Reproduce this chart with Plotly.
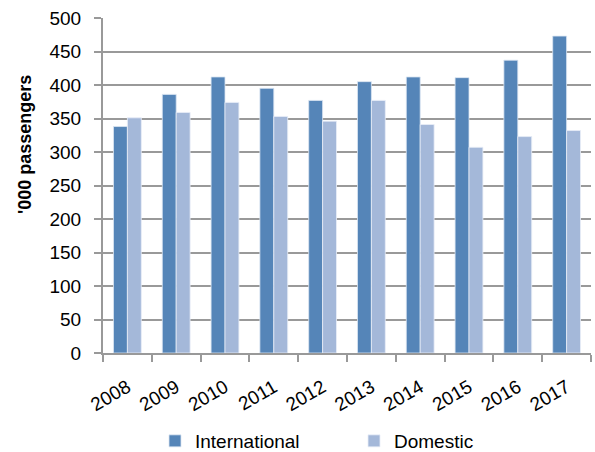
import plotly.graph_objects as go

years = ["2008", "2009", "2010", "2011", "2012", "2013", "2014", "2015", "2016", "2017"]
international = [338, 386, 412, 395, 377, 405, 412, 411, 437, 473]
domestic = [351, 359, 374, 353, 346, 377, 341, 307, 323, 332]

FONT = "Liberation Sans, Arial, sans-serif"

fig = go.Figure()
fig.add_trace(go.Bar(x=years, y=international, name="International",
                     marker=dict(color="#5585B8", line=dict(color="#DCE6F2", width=0.8))))
fig.add_trace(go.Bar(x=years, y=domestic, name="Domestic",
                     marker=dict(color="#A4B8D9", line=dict(color="#E8EEF7", width=0.8))))

fig.update_layout(
    width=595, height=452,
    margin=dict(l=103, r=4, t=18, b=99),
    paper_bgcolor="white", plot_bgcolor="white",
    font=dict(family=FONT, size=19, color="black"),
    barmode="group", bargap=0.43, bargroupgap=0,
    showlegend=True,
    legend=dict(orientation="h", xref="container", yref="container",
                x=155 / 595, xanchor="left", y=1 - 441 / 452, yanchor="middle",
                font=dict(size=19), entrywidth=154, traceorder="normal",
                itemwidth=30),
    annotations=[dict(text="<b>'000 passengers</b>", textangle=-90,
                      xref="paper", yref="paper",
                      x=(25 - 103) / 488, y=(353 - 145) / 335,
                      xanchor="center", yanchor="middle", showarrow=False,
                      font=dict(size=18))],
)
fig.update_xaxes(
    type="category", showline=True, linecolor="#999999", linewidth=2,
    ticks="outside", tickson="boundaries", ticklen=7, tickcolor="#999999", tickwidth=2,
    tickangle=-30, tickfont=dict(size=19), showgrid=False, automargin=False,
    ticklabelstandoff=14,
)
fig.update_yaxes(
    range=[0, 500], dtick=50, showline=True, linecolor="#999999", linewidth=2,
    ticks="outside", ticklen=7, tickcolor="#999999", tickwidth=2,
    showgrid=True, gridcolor="#999999", gridwidth=2, zeroline=False,
    tickfont=dict(size=19), automargin=False, ticklabelstandoff=9,
)

fig.write_html("out.html")
